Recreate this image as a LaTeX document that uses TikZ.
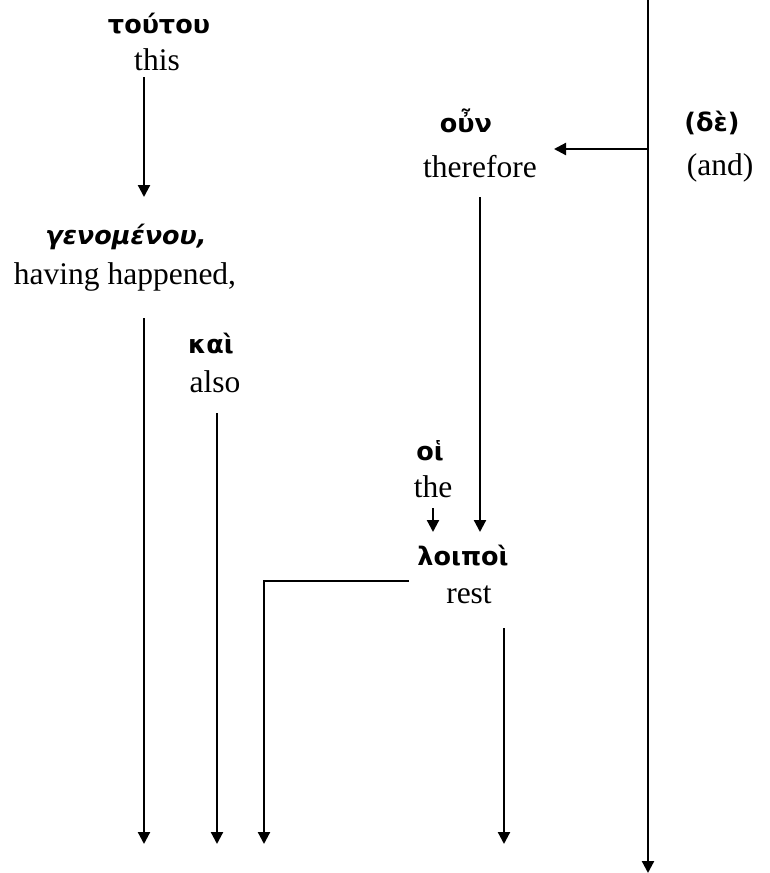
\documentclass[tikz,border=0pt]{standalone}
\usepackage{fontspec}
\setmainfont{Liberation Serif}
\newfontfamily\grk{DejaVu Sans}
\usetikzlibrary{arrows.meta}
\begin{document}
\begin{tikzpicture}[x=1pt,y=-1pt,
  en/.style={anchor=base,inner sep=0pt,font=\fontsize{31.5}{36}\selectfont},
  gr/.style={anchor=base,inner sep=0pt,font=\grk\bfseries\fontsize{25.5}{30}\selectfont},
  grs/.style={gr,font=\grk\bfseries\itshape\fontsize{25.5}{30}\selectfont},
  arr/.style={line width=2.2pt,-{Triangle[length=12pt,width=12pt]}}]
\useasboundingbox (0,0) rectangle (770,873);
% words
\node[gr] (g1) at (159,33) {τούτου};
\node[en] (e1) at (157,70) {this};
\node[grs] (g2) at (126,244) {γενομένου,};
\node[en] (e2) at (125,284) {having happened,};
\node[gr] (g3) at (211,353) {καὶ};
\node[en] (e3) at (215,392) {also};
\node[gr] (g4) at (466,132) {οὖν};
\node[en] (e4) at (480,177) {therefore};
\node[gr] (g5) at (712,131) {(δὲ)};
\node[en] (e5) at (720,175) {(and)};
\node[gr] (g6) at (430,460) {οἱ};
\node[en] (e6) at (433,497) {the};
\node[gr] (g7) at (463,565) {λοιποὶ};
\node[en] (e7) at (469,603) {rest};
% coordinates
\coordinate (mTop) at (648,0);
\coordinate (mBot) at (648,873);
\coordinate (mJ) at (648,149);
\coordinate (oT) at (554,149);
\coordinate (a1s) at (144,77);
\coordinate (a1e) at (144,197);
\coordinate (a2s) at (144,318);
\coordinate (a2e) at (144,844);
\coordinate (a3s) at (217,413);
\coordinate (a3e) at (217,844);
\coordinate (a4s) at (480,197);
\coordinate (a4e) at (480,532);
\coordinate (a5s) at (433,508);
\coordinate (a5e) at (433,532);
\coordinate (a6s) at (409,581);
\coordinate (a6c) at (264,581);
\coordinate (a6e) at (264,844);
\coordinate (a7s) at (504,628);
\coordinate (a7e) at (504,844);
% connectors
\draw[arr] (mTop) -- (mBot);
\draw[arr] (mJ) -- (oT);
\draw[arr] (a1s) -- (a1e);
\draw[arr] (a2s) -- (a2e);
\draw[arr] (a3s) -- (a3e);
\draw[arr] (a4s) -- (a4e);
\draw[arr] (a5s) -- (a5e);
\draw[arr] (a6s) -- (a6c) -- (a6e);
\draw[arr] (a7s) -- (a7e);
\end{tikzpicture}
\end{document}
